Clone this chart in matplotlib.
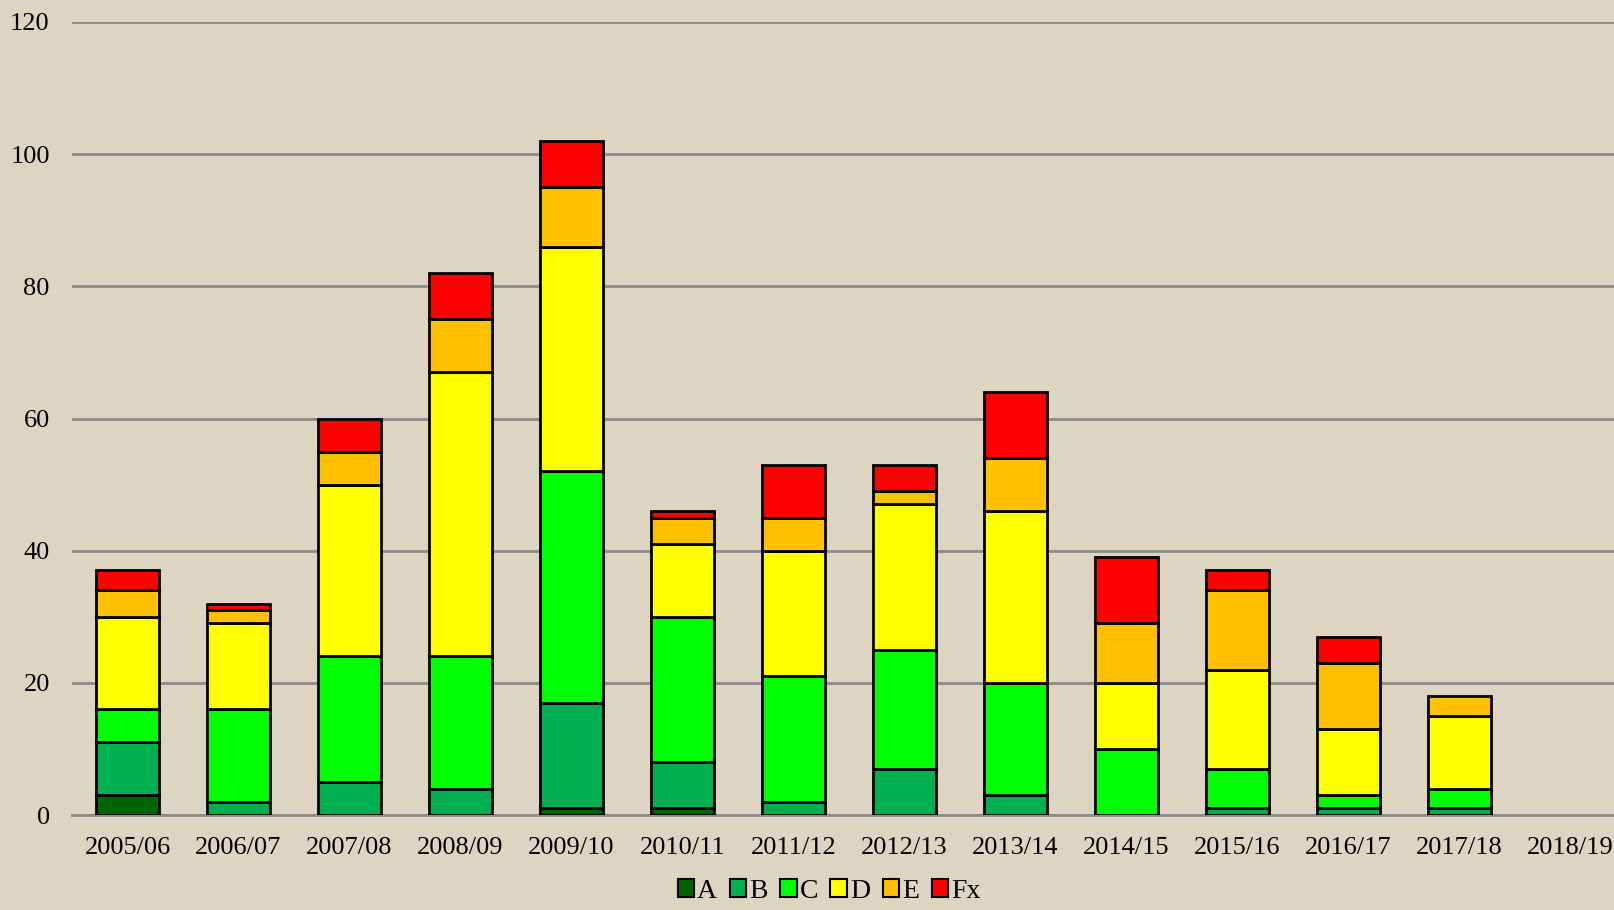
import matplotlib.pyplot as plt
import numpy as np

# seasons and grade counts (stacked bottom -> top)
seasons = ['2005/06', '2006/07', '2007/08', '2008/09', '2009/10', '2010/11', '2011/12',
           '2012/13', '2013/14', '2014/15', '2015/16', '2016/17', '2017/18', '2018/19']
grade_a = [3, 0, 0, 0, 1, 1, 0, 0, 0, 0, 0, 0, 0, 0]
grade_b = [8, 2, 5, 4, 16, 7, 2, 7, 3, 0, 1, 1, 1, 0]
grade_c = [5, 14, 19, 20, 35, 22, 19, 18, 17, 10, 6, 2, 3, 0]
grade_d = [14, 13, 26, 43, 34, 11, 19, 22, 26, 10, 15, 10, 11, 0]
grade_e = [4, 2, 5, 8, 9, 4, 5, 2, 8, 9, 12, 10, 3, 0]
grade_fx = [3, 1, 5, 7, 7, 1, 8, 4, 10, 10, 3, 4, 0, 0]

labels = ['A', 'B', 'C', 'D', 'E', 'Fx']
colors = ['#006400', '#00B050', '#00FF00', '#FFFF00', '#FFC000', '#FF0000']
series = [grade_a, grade_b, grade_c, grade_d, grade_e, grade_fx]

plt.rcParams['font.family'] = ['Liberation Serif', 'DejaVu Serif']

bg = '#DDD5C1'
fig = plt.figure(figsize=(16.15, 9.1), dpi=100, facecolor=bg)
ax = fig.add_axes([72 / 1615, 95 / 910, 1 - 72 / 1615, (888 - 95) / 910])
ax.set_facecolor(bg)

x = np.arange(len(seasons))
bottom = np.zeros(len(seasons))
handles = []
for vals, col, lab in zip(series, colors, labels):
    vals = np.array(vals, dtype=float)
    # no outline on empty segments
    lw = [2 if v > 0 else 0 for v in vals]
    h = ax.bar(x, vals, 0.57, bottom=bottom, color=col, edgecolor='black',
               linewidth=lw, label=lab, zorder=3)
    handles.append(h)
    bottom += vals

ax.set_ylim(0, 120)
ax.set_yticks(range(0, 121, 20))
ax.set_xlim(-0.5, 13.4)
ax.set_xticks(x)
ax.set_xticklabels(seasons)
ax.yaxis.grid(True, color='#8C8C8C', linewidth=2, zorder=0)
ax.set_axisbelow(True)
for s in ['top', 'right', 'left']:
    ax.spines[s].set_visible(False)
ax.spines['bottom'].set_color('#8C8C8C')
ax.spines['bottom'].set_linewidth(2)
ax.tick_params(axis='both', length=0, labelsize=19)
ax.tick_params(axis='y', pad=16)
ax.tick_params(axis='x', pad=16)

leg = fig.legend(handles=handles, labels=labels, loc='lower center',
                 bbox_to_anchor=(829 / 1615, -0.021), ncol=6, frameon=False,
                 fontsize=20, handlelength=0.6, handleheight=0.6, handletextpad=0.1,
                 columnspacing=0.45)
for p in leg.get_patches():
    p.set_linewidth(1.5)

fig.savefig('out.png', dpi=100, facecolor=bg)
